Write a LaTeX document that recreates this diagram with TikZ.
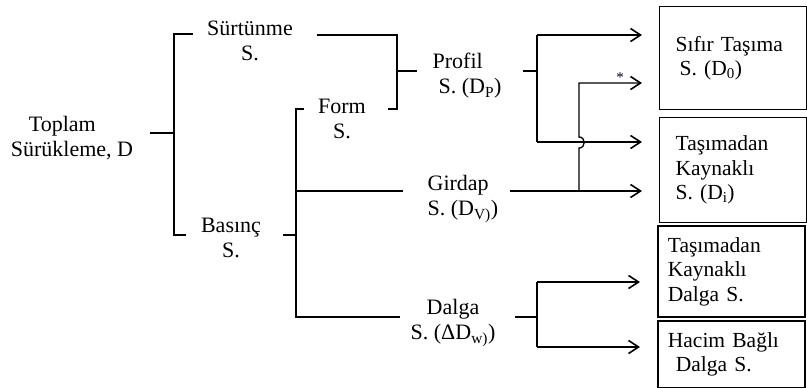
\documentclass[tikz,border=0pt]{standalone}
\usepackage{fontspec}
\setmainfont{Liberation Serif}
\usetikzlibrary{arrows.meta}

\tikzset{
	lbl/.style={inner sep=0pt, font=\fontsize{22}{25}\selectfont},
	kutu/.style={draw, line width=1.2pt, anchor=north west, align=left, minimum width=147pt, font=\fontsize{21.5}{24.5}\selectfont},
	ok/.style={-{Straight Barb[length=10pt,width=13pt,line width=1.6pt]}},
}

\begin{document}
\begin{tikzpicture}[x=1pt, y=-1pt, line width=1.3pt]
			\useasboundingbox (0,0) rectangle (807,388);
			\coordinate (t1) at (150,133);
			\coordinate (t2) at (174,133);
			\coordinate (s0) at (193,34);
			\coordinate (s1) at (174,34);
			\coordinate (b1) at (174,235);
			\coordinate (b0) at (186,235);
			\coordinate (s2) at (317,35);
			\coordinate (p1) at (397,35);
			\coordinate (p2) at (397,109);
			\coordinate (p3) at (388,109);
			\coordinate (p4) at (397,71);
			\coordinate (p5) at (417,71);
			\coordinate (b2) at (283,235);
			\coordinate (f1) at (296,235);
			\coordinate (f0) at (304,109);
			\coordinate (f2) at (296,109);
			\coordinate (f3) at (296,317);
			\coordinate (d0) at (400,317);
			\coordinate (g1) at (296,191);
			\coordinate (g0) at (403,191);
			\coordinate (q0) at (523,71);
			\coordinate (q1) at (537,71);
			\coordinate (q2) at (537,35);
			\coordinate (q3) at (537,142);
			\coordinate (a1) at (642,35);
			\coordinate (a2) at (642,83);
			\coordinate (a3) at (642,142);
			\coordinate (a4) at (642,191);
			\coordinate (g2) at (510,191);
			\coordinate (h0) at (579,191);
			\coordinate (k1) at (579,148);
			\coordinate (k2) at (579,137);
			\coordinate (h1) at (579,83);
			\coordinate (d1) at (515,317);
			\coordinate (d2) at (537,317);
			\coordinate (d3) at (537,282);
			\coordinate (d4) at (537,347);
			\coordinate (e1) at (640,282);
			\coordinate (e2) at (640,347);
			
			\node[lbl, align=left] (toplam) at (72,138) {\hspace*{18pt}Toplam\\Sürükleme, D};
			\node[lbl, align=center] (surtunme) at (250,41) {Sürtünme\\S.};
			\node[lbl, align=center] (basinc) at (231,238) {Basınç\\S.};
			\node[lbl, align=center] (form) at (342,119) {Form\\S.};
			\node[lbl, align=left, anchor=west] (profil) at (432,76) {Profil\\\hspace*{6pt}S. (D\textsubscript{P})};
			\node[lbl, align=left, anchor=west] (girdap) at (427,199) {Girdap\\S. (D\textsubscript{V)})};
			\node[lbl, align=center] (dalga) at (453,323) {Dalga\\S. (ΔD\textsubscript{w)})};
			
			\draw (t1) -- (t2);
			\draw (s0) -- (s1) -- (b1) -- (b0);
			\draw (s2) -- (p1) -- (p2) -- (p3);
			\draw (p4) -- (p5);
			\draw (b2) -- (f1);
			\draw (f0) -- (f2) -- (f3) -- (d0);
			\draw (g1) -- (g0);
			\draw (q0) -- (q1);
			\draw (q2) -- (q3);
			\draw[ok] (q2) -- (a1);
			\draw[ok] (q3) -- (a3);
			\draw[ok] (g2) -- (a4);
			\draw[ok] (h0) -- (k1) .. controls +(7,0) and +(7,0) .. (k2) -- (h1) -- (a2);
			\node[inner sep=0pt, font=\fontsize{15}{15}\selectfont, text=black!75!blue] (yildiz) at (620,78) {*};
			\draw (d1) -- (d2);
			\draw (d3) -- (d4);
			\draw[ok] (d3) -- (e1);
			\draw[ok] (d4) -- (e2);
			
			\node[kutu, inner xsep=16pt, minimum height=103pt, text width=115pt] (sifir) at (659,6) {Sıfır Taşıma\\\hspace*{4pt}S. (D\textsubscript{0})};
			\node[kutu, inner xsep=16pt, minimum height=105pt, text width=115pt] (tasima) at (659,117) {Taşımadan\\Kaynaklı\\S. (D\textsubscript{i})};
			\node[kutu, line width=1.8pt, inner xsep=10pt, minimum height=91pt, text width=127pt] (tdalga) at (657,225) {Taşımadan\\Kaynaklı\\Dalga S.};
			\node[kutu, line width=1.8pt, inner xsep=10pt, minimum height=67pt, text width=127pt] (hacim) at (657,320) {Hacim Bağlı\\\hspace*{8pt}Dalga S.};
		\end{tikzpicture}
\end{document}
